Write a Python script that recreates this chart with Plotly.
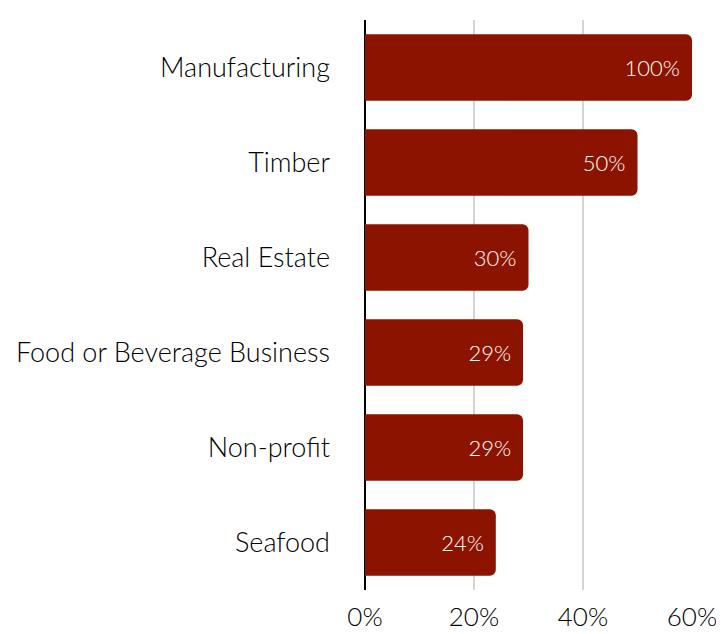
import plotly.graph_objects as go

categories = ["Manufacturing", "Timber", "Real Estate", "Food or Beverage Business", "Non-profit", "Seafood"]
values = [100, 50, 30, 29, 29, 24]
tick_vals = [0, 20, 40, 60]
tick_text = ["0%", "20%", "40%", "60%"]

x_max = tick_vals[-1]
# bars longer than the axis are cut at its end, as in the original chart
bar_x = [min(v, x_max) for v in values]

fig = go.Figure(go.Bar(
    y=categories,
    x=bar_x,
    orientation="h",
    marker=dict(color="#8C1300", cornerradius=6, line=dict(width=0)),
    width=0.7,
    text=[f"{v}%" for v in values],
    textposition="inside",
    insidetextanchor="end",
    textfont=dict(color="white", size=22, family="Lato", weight=300),
    texttemplate="%{text} ",
    cliponaxis=False,
))

fig.update_layout(
    width=716, height=626,
    margin=dict(l=357, r=32, t=12, b=44, pad=0, autoexpand=False),
    plot_bgcolor="white", paper_bgcolor="white",
    font=dict(family="Lato", size=27, color="#000000", weight=300),
    showlegend=False,
    xaxis=dict(range=[0, x_max], tickvals=tick_vals, ticktext=tick_text,
               tickfont=dict(size=26),
               showgrid=True, gridcolor="#d4d4d4", gridwidth=2,
               zeroline=True, zerolinecolor="black", zerolinewidth=2,
               ticks="", ticklabelstandoff=9, fixedrange=True, automargin=False),
    yaxis=dict(autorange="reversed", showgrid=False, ticks="", ticklabelstandoff=34,
               categoryorder="array", categoryarray=categories, automargin=False),
    uniformtext=dict(mode="show", minsize=22),
)

fig.write_html("out.html")
